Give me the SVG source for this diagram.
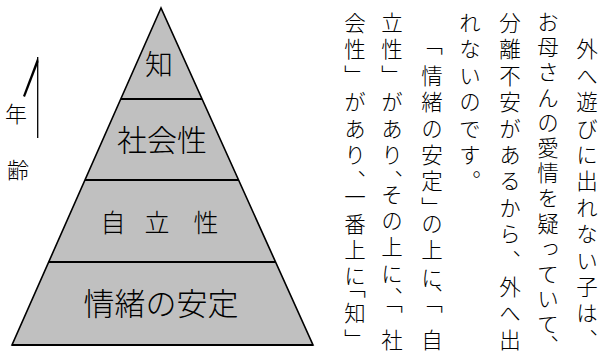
<svg xmlns="http://www.w3.org/2000/svg" width="602" height="351" viewBox="0 0 602 351">
<style>
.pyr{fill:#c0c0c0;stroke:#000;stroke-width:1.6;stroke-linejoin:miter}
.div{stroke:#000;stroke-width:2;fill:none}
.lbl{font-family:"Noto Sans CJK JP","Noto Sans CJK SC",sans-serif;font-weight:300;fill:#000;text-anchor:middle;dominant-baseline:central}
.col{font-family:"Noto Sans CJK JP","Noto Sans CJK SC",sans-serif;font-weight:300;font-size:21.5px;fill:#000;writing-mode:vertical-rl}
</style>
<rect width="602" height="351" fill="#fff"/>
<g id="pyramid">
<polygon class="pyr" points="161,8 12,345 313,345"/>
</g>
<g id="connectors">
<line class="div" x1="120.8" y1="99" x2="202" y2="99"/>
<line class="div" x1="85" y1="180" x2="238.6" y2="180"/>
<line class="div" x1="48.7" y1="262" x2="275.6" y2="262"/>
<line class="div" x1="12" y1="345" x2="313" y2="345"/>
</g>
<g id="node-chi"><text class="lbl" x="159" y="63" font-size="28">知</text></g>
<g id="node-shakaisei"><text class="lbl" x="162" y="138" font-size="30">社会性</text></g>
<g id="node-jiritsusei"><text class="lbl" x="113" y="221" font-size="25">自</text><text class="lbl" x="157" y="221" font-size="25">立</text><text class="lbl" x="206" y="221" font-size="25">性</text></g>
<g id="node-jocho"><text class="lbl" x="161" y="301" font-size="31">情緒の安定</text></g>
<g id="age-axis">
<line x1="37.7" y1="57" x2="37.7" y2="138" stroke="#000" stroke-width="1.3"/>
<polygon points="37.7,57 23,96 25,97 38.5,62" fill="#000"/>
<text class="lbl" x="16" y="112" font-size="22">年</text>
<text class="lbl" x="18" y="168" font-size="22">齢</text>
</g>
<g id="body-text">
<text class="col" x="587" y="38.4 64.8 91.2 117.6 144 170.4 196.8 223.2 249.6 276 302.4 328.8">外へ遊びに出れない子は、</text>
<text class="col" x="548" y="11 36.2 61.4 86.6 111.8 137 162.2 187.4 212.6 237.8 263 288.2 313.4 335">お母さんの愛情を疑っていて、</text>
<text class="col" x="510" y="12 38.4 64.8 91.2 117.6 144 170.4 196.8 223.2 249.6 276 302.4 328.8">分離不安があるから、外へ出</text>
<text class="col" x="470" y="12 38.4 64.8 91.2 117.6 144 170.4">れないのです。</text>
<text class="col" x="432" y="33 64.8 91.2 117.6 144 170.4 196.8 212.6 239 266.8 285.2 291 328.8">「情緒の安定」の上に、「自</text>
<text class="col" x="392" y="12 38.4 64.8 91.2 117.6 144 170.4 183.6 210 236.4 262.8 286.6 291 328.8">立性」があり、その上に、「社</text>
<text class="col" x="355" y="12 38.4 64.8 91.2 117.6 144 170.4 186.2 212.6 239 265.4 276 302.4 328.8">会性」があり、一番上に「知」</text>
</g>
</svg>
